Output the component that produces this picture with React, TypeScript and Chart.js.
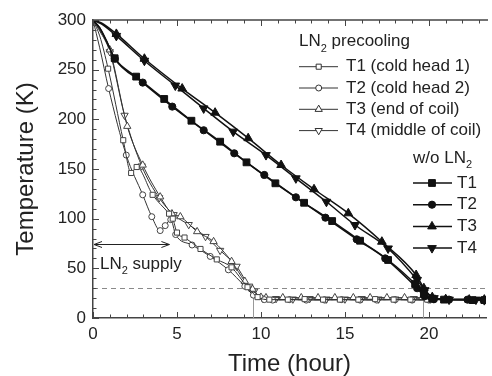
import React, { useEffect, useRef } from 'react';
import { Chart, registerables } from 'chart.js';

Chart.register(...registerables);

const FONT = '"Liberation Sans", Arial, Helvetica, sans-serif';
const TEXT = '#222';
const AXIS = '#444';

// ---- axis ticks / labels ----
const xTickValues = [0, 5, 10, 15, 20];
const yTickValues = [0, 50, 100, 150, 200, 250, 300];
const xTitle = 'Time (hour)';
const yTitle = 'Temperature (K)';

// ---- annotations ----
const refTemp = 30; // dashed line (K)
const refHours = [9.53, 19.63]; // grey vertical markers (hour)
const supplyEnd = 4.55; // LN2 supply arrow end (hour)
const supplyTemp = 75; // arrow level (K)

// ---- LN2 precooling (open markers) ----
const ln2T1Hours = [0, 0.4, 0.9, 1.8, 2.27, 2.6, 3.55, 4.53, 4.75, 5.0, 5.45, 6.4, 7.37, 8.25, 9.2, 9.8, 10.5, 11.6, 12.6, 13.7, 14.7, 15.8, 16.8, 17.9, 18.9, 19.9];
const ln2T1Temps = [300, 284, 251, 179, 146, 152, 124, 105, 100, 86, 81, 69.5, 59, 51, 31, 21, 18.5, 18.5, 19, 18.5, 18.5, 18.5, 19, 18.5, 18.5, 18.5];

const ln2T2Hours = [0, 0.4, 0.93, 1.98, 2.96, 3.5, 4.0, 4.3, 4.63, 4.92, 5.9, 6.98, 8.06, 9.04, 9.55, 10.2, 10.7, 11.7, 12.7, 13.8, 14.8, 15.9, 16.9, 18.0, 19.0, 20.0];
const ln2T2Temps = [300, 272, 231, 164, 124, 102, 88, 93, 99, 84, 73.5, 62, 48.5, 32, 23, 18.5, 18, 18.5, 18, 18, 18.5, 18, 18, 18.5, 18, 18];

const ln2T3Hours = [0, 0.4, 1.0, 2.04, 2.96, 4.0, 4.7, 5.2, 6.2, 7.18, 8.25, 9.04, 9.5, 10.0, 10.3, 11.3, 12.4, 13.4, 14.4, 15.5, 16.5, 17.5, 18.55, 19.6, 20.1];
const ln2T3Temps = [300, 290, 270, 193, 154, 122, 105, 102, 87, 77, 57, 37, 29, 21, 20.5, 20.5, 20.5, 20.5, 20.5, 20.5, 20.5, 20.5, 20.5, 20.5, 19.5];

const ln2T4Hours = [0, 0.4, 1.0, 1.88, 2.9, 3.94, 4.8, 5.7, 6.7, 7.57, 8.55, 9.3, 9.6, 10.1, 10.9, 11.9, 12.9, 13.9, 15.0, 16.0, 17.0, 18.0, 19.1, 20.1];
const ln2T4Temps = [300, 289, 268, 204, 153, 121, 104, 94, 82, 68, 52, 32, 27, 20, 19.5, 19, 19.5, 19, 19, 19.5, 19, 19, 19.5, 19];

// ---- without LN2 (filled markers) ----
const woT1Hours = [0, 0.4, 0.8, 1.29, 2.57, 4.24, 5.86, 7.57, 9.14, 10.86, 12.57, 14.24, 15.9, 17.57, 19.18, 19.7, 20.2, 20.9, 22.6, 23.3];
const woT1Temps = [300, 292, 279, 261.5, 243, 220.5, 198.6, 177.5, 156.7, 135.6, 116, 97.6, 77.8, 58.4, 34.2, 24, 19.5, 18.5, 18, 18];

const woT2Hours = [0, 0.4, 0.8, 1.3, 2.96, 4.72, 6.59, 8.41, 10.2, 12.08, 13.84, 15.7, 17.4, 19.3, 19.75, 20.3, 21.2, 22.3, 23.3];
const woT2Temps = [300, 292, 279, 261, 237, 212.8, 189, 165.8, 144, 121.5, 101, 79.2, 60, 30, 22, 19, 18.5, 18.5, 18];

const woT3Hours = [0, 0.5, 1.39, 3.06, 5.31, 7.27, 9.24, 11.2, 13.16, 15.2, 17.2, 19.24, 19.7, 20.2, 21.0, 22.4, 23.3];
const woT3Temps = [300, 297, 286, 261, 231, 206.7, 181, 154, 129.6, 105.4, 76.8, 43.3, 30, 21, 19, 18.5, 18.5];

const woT4Hours = [0, 0.5, 1.39, 3.06, 4.9, 6.59, 8.35, 10.3, 12.08, 13.9, 15.6, 17.57, 19.3, 19.75, 20.3, 21.2, 22.8, 23.3];
const woT4Temps = [300, 296, 284, 259, 234, 211, 187.6, 164, 140.6, 117, 93.6, 70, 38.3, 28, 20, 18.5, 18.5, 18];

// ---- legend text ----
const ln2GroupTitle = ['LN', '2', ' precooling'];
const woGroupTitle = ['w/o LN', '2', ''];
const ln2Labels = ['T1 (cold head 1)', 'T2 (cold head 2)', 'T3 (end of coil)', 'T4 (middle of coil)'];
const woLabels = ['T1', 'T2', 'T3', 'T4'];
const supplyLabel = ['LN', '2', ' supply'];

type Kind = 'rect' | 'circle' | 'triUp' | 'triDown';
const kinds: Kind[] = ['rect', 'circle', 'triUp', 'triDown'];
const openRadius: Record<Kind, number> = { rect: 3.6, circle: 3, triUp: 4.2, triDown: 4.2 };
const filledRadius: Record<Kind, number> = { rect: 4.8, circle: 3.6, triUp: 5, triDown: 5 };

function pts(h: number[], t: number[]) {
  return h.map((x, i) => ({ x, y: t[i] }));
}

function drawMarker(ctx: CanvasRenderingContext2D, kind: Kind, x: number, y: number, r: number, filled: boolean) {
  ctx.beginPath();
  if (kind === 'rect') {
    const s = r * Math.SQRT1_2;
    ctx.rect(x - s, y - s, 2 * s, 2 * s);
  } else if (kind === 'circle') {
    ctx.arc(x, y, r, 0, Math.PI * 2);
  } else {
    let a = kind === 'triDown' ? Math.PI : 0;
    for (let k = 0; k < 3; k++) {
      const px = x + Math.sin(a) * r;
      const py = y - Math.cos(a) * r;
      if (k === 0) ctx.moveTo(px, py);
      else ctx.lineTo(px, py);
      a += (2 * Math.PI) / 3;
    }
    ctx.closePath();
  }
  ctx.fillStyle = filled ? '#111' : '#fff';
  ctx.fill();
  ctx.stroke();
}

function subText(ctx: CanvasRenderingContext2D, parts: string[], x: number, y: number, size: number) {
  ctx.textBaseline = 'alphabetic';
  ctx.textAlign = 'left';
  ctx.fillStyle = TEXT;
  ctx.font = `${size}px ${FONT}`;
  ctx.fillText(parts[0], x, y);
  let cx = x + ctx.measureText(parts[0]).width;
  ctx.font = `${Math.round(size * 0.65)}px ${FONT}`;
  ctx.fillText(parts[1], cx, y + size * 0.33);
  cx += ctx.measureText(parts[1]).width;
  ctx.font = `${size}px ${FONT}`;
  if (parts[2]) ctx.fillText(parts[2], cx, y);
}

const decor = {
  id: 'decor',
  beforeDatasetsDraw(chart: any) {
    const { ctx, chartArea: a, scales } = chart;
    const x = scales.x;
    const y = scales.y;
    ctx.save();
    ctx.strokeStyle = '#8a8a8a';
    ctx.lineWidth = 1;
    ctx.setLineDash([5, 4]);
    const yr = Math.round(y.getPixelForValue(refTemp)) + 0.5;
    ctx.beginPath();
    ctx.moveTo(a.left, yr);
    ctx.lineTo(a.right, yr);
    ctx.stroke();
    ctx.setLineDash([]);
    ctx.strokeStyle = '#999';
    for (const h of refHours) {
      const px = Math.round(x.getPixelForValue(h)) + 0.5;
      ctx.beginPath();
      ctx.moveTo(px, y.getPixelForValue(0));
      ctx.lineTo(px, yr);
      ctx.stroke();
    }
    ctx.restore();
  },
  afterDraw(chart: any) {
    const { ctx, chartArea: a, scales } = chart;
    const x = scales.x;
    const y = scales.y;
    ctx.save();
    // top axis line
    ctx.strokeStyle = AXIS;
    ctx.lineWidth = 1.5;
    ctx.beginPath();
    ctx.moveTo(a.left, a.top);
    ctx.lineTo(a.right + 2, a.top);
    ctx.stroke();
    // inward ticks
    ctx.lineWidth = 1;
    ctx.beginPath();
    for (let h = 0; h <= 23; h++) {
      const px = Math.round(x.getPixelForValue(h)) + 0.5;
      const len = h % 5 === 0 ? 6 : 3.5;
      ctx.moveTo(px, a.bottom);
      ctx.lineTo(px, a.bottom - len);
      ctx.moveTo(px, a.top);
      ctx.lineTo(px, a.top + len);
    }
    for (let t = 0; t <= 300; t += 10) {
      const py = Math.round(y.getPixelForValue(t)) + 0.5;
      const len = t % 50 === 0 ? 6 : 3.5;
      ctx.moveTo(a.left, py);
      ctx.lineTo(a.left + len, py);
    }
    ctx.stroke();

    // LN2 supply arrow
    ctx.strokeStyle = '#222';
    ctx.lineWidth = 1;
    const ay = Math.round(y.getPixelForValue(supplyTemp)) + 0.5;
    const x0 = x.getPixelForValue(0) + 1;
    const x1 = x.getPixelForValue(supplyEnd);
    ctx.beginPath();
    ctx.moveTo(x0, ay);
    ctx.lineTo(x1, ay);
    ctx.moveTo(x0 + 8, ay - 3);
    ctx.lineTo(x0, ay);
    ctx.lineTo(x0 + 8, ay + 3);
    ctx.moveTo(x1 - 8, ay - 3);
    ctx.lineTo(x1, ay);
    ctx.lineTo(x1 - 8, ay + 3);
    ctx.stroke();
    subText(ctx, supplyLabel, 100, 268.5, 17);

    // legend
    ctx.strokeStyle = '#333';
    subText(ctx, ln2GroupTitle, 299, 46, 17);
    ln2Labels.forEach((lab, i) => {
      const ry = 66.7 + i * 21.3;
      ctx.lineWidth = 1;
      ctx.strokeStyle = '#333';
      ctx.beginPath();
      ctx.moveTo(299, ry);
      ctx.lineTo(338, ry);
      ctx.stroke();
      drawMarker(ctx, kinds[i], 318.7, ry, openRadius[kinds[i]], false);
      ctx.fillStyle = TEXT;
      ctx.font = `17px ${FONT}`;
      ctx.textBaseline = 'middle';
      ctx.textAlign = 'left';
      ctx.fillText(lab, 346, ry);
    });
    subText(ctx, woGroupTitle, 413, 162.5, 17);
    woLabels.forEach((lab, i) => {
      const ry = 183 + i * 21.7;
      ctx.lineWidth = 1.5;
      ctx.strokeStyle = '#111';
      ctx.beginPath();
      ctx.moveTo(413, ry);
      ctx.lineTo(452, ry);
      ctx.stroke();
      ctx.lineWidth = 1;
      drawMarker(ctx, kinds[i], 432, ry, filledRadius[kinds[i]], true);
      ctx.fillStyle = TEXT;
      ctx.font = `17px ${FONT}`;
      ctx.textBaseline = 'middle';
      ctx.textAlign = 'left';
      ctx.fillText(lab, 457, ry);
    });
    ctx.restore();
  },
};

function series(h: number[], t: number[], kind: Kind, filled: boolean) {
  const r = filled ? filledRadius[kind] : openRadius[kind];
  return {
    data: pts(h, t),
    borderColor: filled ? '#111' : '#333',
    borderWidth: filled ? 1.5 : 1,
    pointStyle: kind === 'rect' ? 'rect' : kind === 'circle' ? 'circle' : 'triangle',
    rotation: kind === 'triDown' ? 180 : 0,
    // no symbols on the very first, steep part of each trace
    pointRadius: (c: any) => (c.raw && c.raw.x < 0.85 ? 0 : r),
    pointBorderWidth: 1,
    pointBackgroundColor: filled ? '#111' : '#fff',
    pointBorderColor: filled ? '#111' : '#444',
    cubicInterpolationMode: 'monotone',
    fill: false,
  };
}

export default function App() {
  const ref = useRef<HTMLCanvasElement | null>(null);
  useEffect(() => {
    document.body.style.margin = '0';
    if (!ref.current) return;
    const chart = new Chart(ref.current, {
      type: 'line',
      data: {
        datasets: [
          series(woT1Hours, woT1Temps, 'rect', true),
          series(woT2Hours, woT2Temps, 'circle', true),
          series(woT3Hours, woT3Temps, 'triUp', true),
          series(woT4Hours, woT4Temps, 'triDown', true),
          series(ln2T1Hours, ln2T1Temps, 'rect', false),
          series(ln2T2Hours, ln2T2Temps, 'circle', false),
          series(ln2T3Hours, ln2T3Temps, 'triUp', false),
          series(ln2T4Hours, ln2T4Temps, 'triDown', false),
        ] as any,
      },
      options: {
        responsive: false,
        maintainAspectRatio: false,
        animation: false,
        layout: { padding: { top: 20, right: 1, left: 0, bottom: 0 } },
        plugins: { legend: { display: false }, tooltip: { enabled: false } },
        scales: {
          x: {
            type: 'linear',
            min: 0,
            max: 23.4,
            afterBuildTicks: (s: any) => {
              s.ticks = xTickValues.map((v) => ({ value: v }));
            },
            afterFit: (s: any) => {
              s.height = 58;
            },
            ticks: { font: { size: 17, family: FONT }, color: TEXT, padding: 6, maxRotation: 0, autoSkip: false },
            grid: { display: false, drawTicks: false },
            border: { display: true, color: AXIS, width: 1.5 },
            title: {
              display: true,
              text: xTitle,
              color: TEXT,
              font: { size: 24, family: FONT, lineHeight: 1 },
              padding: { top: 0, bottom: 0 },
            },
          },
          y: {
            type: 'linear',
            min: 0,
            max: 300,
            afterBuildTicks: (s: any) => {
              s.ticks = yTickValues.map((v) => ({ value: v }));
            },
            afterFit: (s: any) => {
              s.width = 93;
            },
            ticks: { font: { size: 17, family: FONT }, color: TEXT, padding: 7 },
            grid: { display: false, drawTicks: false },
            border: { display: true, color: AXIS, width: 1.5 },
            title: {
              display: true,
              text: yTitle,
              color: TEXT,
              font: { size: 24, family: FONT, lineHeight: 1 },
              padding: { top: 14, bottom: 0 },
            },
          },
        },
      } as any,
      plugins: [decor],
    });
    return () => chart.destroy();
  }, []);
  return (
    <div style={{ width: 492, height: 376, background: '#fff' }}>
      <canvas ref={ref} width={492} height={376} style={{ display: 'block' }} />
    </div>
  );
}
